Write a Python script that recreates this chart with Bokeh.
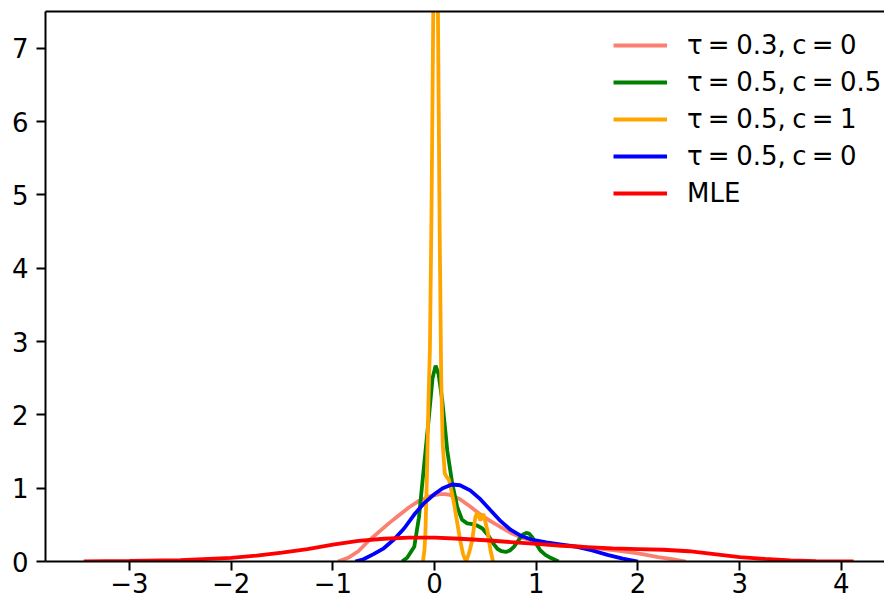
from bokeh.plotting import figure
from bokeh.models import Range1d, FixedTicker, LinearAxis, Legend, LegendItem
from bokeh.embed import file_html
from bokeh.resources import INLINE

# ---- data ----
x_mle = [-3.45, -3.0, -2.5, -2.0, -1.75, -1.5, -1.25, -1.0, -0.75, -0.5, -0.25, 0.0, 0.25, 0.5,
         0.75, 1.0, 1.25, 1.5, 1.75, 2.0, 2.25, 2.5, 2.75, 3.0, 3.25, 3.5, 3.75, 4.12]
y_mle = [0.0, 0.007, 0.02, 0.05, 0.08, 0.12, 0.17, 0.23, 0.28, 0.31, 0.325, 0.325, 0.31, 0.29,
         0.265, 0.24, 0.215, 0.195, 0.18, 0.17, 0.16, 0.14, 0.10, 0.06, 0.035, 0.015, 0.006, 0.0]

x_t03_c0 = [-0.95, -0.85, -0.75, -0.65, -0.55, -0.45, -0.35, -0.25, -0.15, -0.05, 0.05, 0.1, 0.15,
            0.25, 0.35, 0.45, 0.55, 0.65, 0.75, 0.85, 1.0, 1.2, 1.4, 1.6, 1.8, 2.0, 2.2, 2.35, 2.47]
y_t03_c0 = [0.0, 0.05, 0.14, 0.28, 0.40, 0.52, 0.63, 0.74, 0.83, 0.89, 0.92, 0.92, 0.91,
            0.85, 0.75, 0.64, 0.55, 0.47, 0.39, 0.33, 0.27, 0.23, 0.21, 0.18, 0.15, 0.11, 0.06, 0.03, 0.0]

x_t05_c05 = [-0.32, -0.27, -0.2, -0.154, -0.105, -0.056, -0.02, 0.01, 0.04, 0.075, 0.125, 0.174,
             0.223, 0.27, 0.32, 0.37, 0.42, 0.47, 0.53, 0.58, 0.62, 0.66, 0.70, 0.74, 0.78, 0.83,
             0.87, 0.9, 0.93, 0.96, 1.0, 1.04, 1.09, 1.14, 1.22]
y_t05_c05 = [0.0, 0.05, 0.2, 0.6, 1.29, 1.97, 2.5, 2.67, 2.55, 2.2, 1.51, 1.06,
             0.74, 0.57, 0.52, 0.51, 0.49, 0.45, 0.35, 0.24, 0.17, 0.14, 0.13, 0.15, 0.2, 0.3,
             0.37, 0.39, 0.38, 0.33, 0.24, 0.15, 0.09, 0.05, 0.0]

x_t05_c1 = [-0.115, -0.1, -0.09, -0.075, -0.06, -0.046, -0.03, -0.013, 0.01, 0.033, 0.05, 0.065,
            0.08, 0.1, 0.12, 0.14, 0.16, 0.19, 0.22, 0.25, 0.28, 0.31, 0.34, 0.37, 0.4, 0.42,
            0.45, 0.48, 0.52, 0.55, 0.575]
y_t05_c1 = [0.0, 0.15, 0.4, 1.2, 2.2, 2.9, 4.8, 7.5, 10.0, 7.5, 4.5, 2.5,
            1.6, 1.2, 1.15, 1.12, 1.0, 0.8, 0.55, 0.3, 0.1, 0.0, 0.12, 0.29, 0.6, 0.67,
            0.56, 0.65, 0.42, 0.15, 0.0]

x_t05_c0 = [-0.78, -0.7, -0.6, -0.5, -0.4, -0.3, -0.2, -0.1, 0.0, 0.08, 0.17, 0.25, 0.35, 0.45,
            0.55, 0.65, 0.75, 0.85, 0.95, 1.1, 1.25, 1.4, 1.55, 1.7, 1.85, 2.0]
y_t05_c0 = [0.0, 0.03, 0.10, 0.18, 0.30, 0.45, 0.64, 0.80, 0.92, 1.00, 1.05, 1.04, 0.97, 0.85,
            0.70, 0.55, 0.43, 0.35, 0.30, 0.26, 0.23, 0.20, 0.15, 0.09, 0.04, 0.0]

# math-style spacing: thin space before "=", wider space after "=" and ","
series_labels = ["τ\u2009=\u20050.3,\u2005c\u2009=\u20050",
                 "τ\u2009=\u20050.5,\u2005c\u2009=\u20050.5",
                 "τ\u2009=\u20050.5,\u2005c\u2009=\u20051",
                 "τ\u2009=\u20050.5,\u2005c\u2009=\u20050",
                 "MLE"]
series_colors = ["salmon", "green", "orange", "blue", "red"]

x_ticks = [-3, -2, -1, 0, 1, 2, 3, 4]
x_tick_labels = ["−3", "−2", "−1", "0", "1", "2", "3", "4"]
y_ticks = [0, 1, 2, 3, 4, 5, 6, 7]
y_tick_labels = ["0", "1", "2", "3", "4", "5", "6", "7"]

FONT = "DejaVu Sans"
FS = "26px"

p = figure(width=884, height=602, output_backend="svg", toolbar_location=None,
           x_range=Range1d(-3.826, 4.424), y_range=Range1d(0, 7.5),
           min_border_left=45, min_border_right=0, min_border_top=11, min_border_bottom=41)
p.outline_line_color = None
p.grid.visible = False
p.background_fill_color = "white"

for ax, ticks, labels in ((p.xaxis[0], x_ticks, x_tick_labels), (p.yaxis[0], y_ticks, y_tick_labels)):
    ax.ticker = FixedTicker(ticks=ticks)
    ax.major_label_overrides = {t: l for t, l in zip(ticks, labels)}
    ax.axis_line_width = 2
    ax.axis_line_color = "black"
    ax.major_tick_line_width = 2
    ax.major_tick_line_color = "black"
    ax.major_tick_out = 9
    ax.major_tick_in = 0
    ax.minor_tick_out = 0
    ax.minor_tick_in = 0
    ax.major_label_text_font = FONT
    ax.major_label_text_font_size = FS
    ax.major_label_text_color = "black"
p.xaxis[0].major_label_standoff = 2
p.yaxis[0].major_label_standoff = 8

top = LinearAxis(ticker=FixedTicker(ticks=[]), major_label_text_font_size="0px",
                 major_tick_out=0, major_tick_in=0, minor_tick_out=0, minor_tick_in=0,
                 major_label_standoff=0, axis_line_width=2, axis_line_color="black")
p.add_layout(top, "above")

xs = [x_t03_c0, x_t05_c05, x_t05_c1, x_t05_c0, x_mle]
ys = [y_t03_c0, y_t05_c05, y_t05_c1, y_t05_c0, y_mle]
items = []
for xv, yv, col, lab in zip(xs, ys, series_colors, series_labels):
    r = p.line(xv, yv, line_color=col, line_width=3.8)
    items.append(LegendItem(label=lab, renderers=[r]))

legend = Legend(items=items, location=(568, 353), border_line_color=None,
                background_fill_alpha=0, padding=0, margin=0, spacing=7,
                glyph_width=54, glyph_height=26, label_height=26, label_standoff=20,
                label_text_font=FONT, label_text_font_size=FS, label_text_color="black")
p.add_layout(legend)

open("out.html", "w").write(file_html(p, INLINE))
